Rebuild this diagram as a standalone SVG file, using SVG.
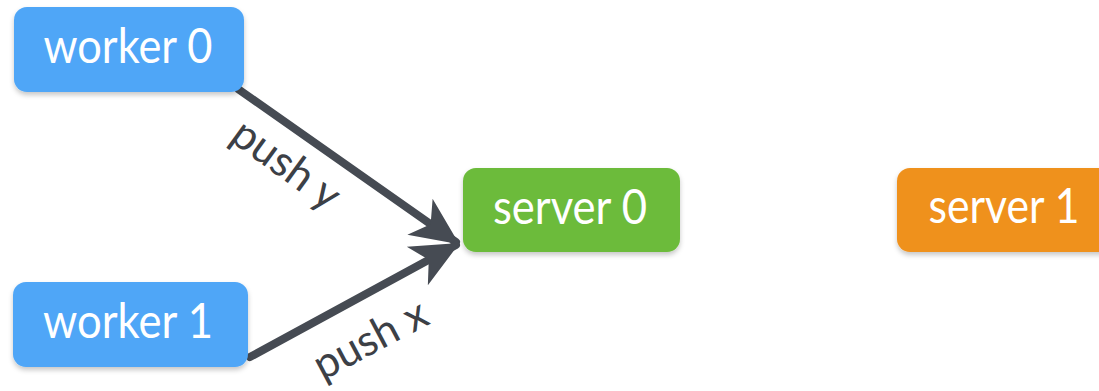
<svg xmlns="http://www.w3.org/2000/svg" width="1099" height="391" viewBox="0 0 1099 391">
  <style>
    .box { stroke: none; }
    .worker { fill: #4fa6f7; }
    .server0 { fill: #6cbb3a; }
    .server1 { fill: #ef911f; }
    .label { font-family: Lato, "Open Sans", sans-serif; font-size: 48px; fill: #ffffff; text-anchor: middle; }
    .edge { stroke: #464b53; stroke-width: 8; stroke-linecap: round; fill: none; }
    .edge-label { font-family: Lato, "Open Sans", sans-serif; font-size: 43px; fill: #3c4046; text-anchor: middle; }
  </style>
  <defs>
    <filter id="shadow" x="-10%" y="-10%" width="120%" height="130%">
      <feDropShadow dx="0" dy="3" stdDeviation="2.5" flood-color="#000000" flood-opacity="0.22"/>
    </filter>
    <!-- swept-back arrowhead shared by both push edges -->
    <marker id="head" viewBox="0 0 48 48" refX="44" refY="24" markerWidth="48" markerHeight="48" markerUnits="userSpaceOnUse" orient="auto">
      <path d="M0,2 L48,24 L0,46 L13,24 Z" fill="#464b53"/>
    </marker>
  </defs>

  <!-- connectors -->
  <g id="connectors">
    <line class="edge" x1="238" y1="89" x2="456" y2="242" marker-end="url(#head)"/>
    <line class="edge" x1="250" y1="357" x2="456" y2="245" marker-end="url(#head)"/>
    <text class="edge-label" transform="translate(278,176) rotate(36)">push y</text>
    <text class="edge-label" transform="translate(377,352) rotate(-28)">push x</text>
  </g>

  <g id="worker0">
    <rect class="box worker" x="14" y="7" width="230" height="85" rx="13" filter="url(#shadow)"/>
    <text class="label" x="128" y="63" textLength="169" lengthAdjust="spacingAndGlyphs">worker 0</text>
  </g>

  <g id="worker1">
    <rect class="box worker" x="13" y="282" width="235" height="85" rx="13" filter="url(#shadow)"/>
    <text class="label" x="128" y="338" textLength="170" lengthAdjust="spacingAndGlyphs">worker 1</text>
  </g>

  <g id="server0">
    <rect class="box server0" x="463" y="168" width="217" height="84" rx="13" filter="url(#shadow)"/>
    <text class="label" x="570" y="224" textLength="154" lengthAdjust="spacingAndGlyphs">server 0</text>
  </g>

  <g id="server1">
    <rect class="box server1" x="897" y="168" width="217" height="84" rx="13" filter="url(#shadow)"/>
    <text class="label" x="1004" y="223" textLength="151" lengthAdjust="spacingAndGlyphs">server 1</text>
  </g>
</svg>
